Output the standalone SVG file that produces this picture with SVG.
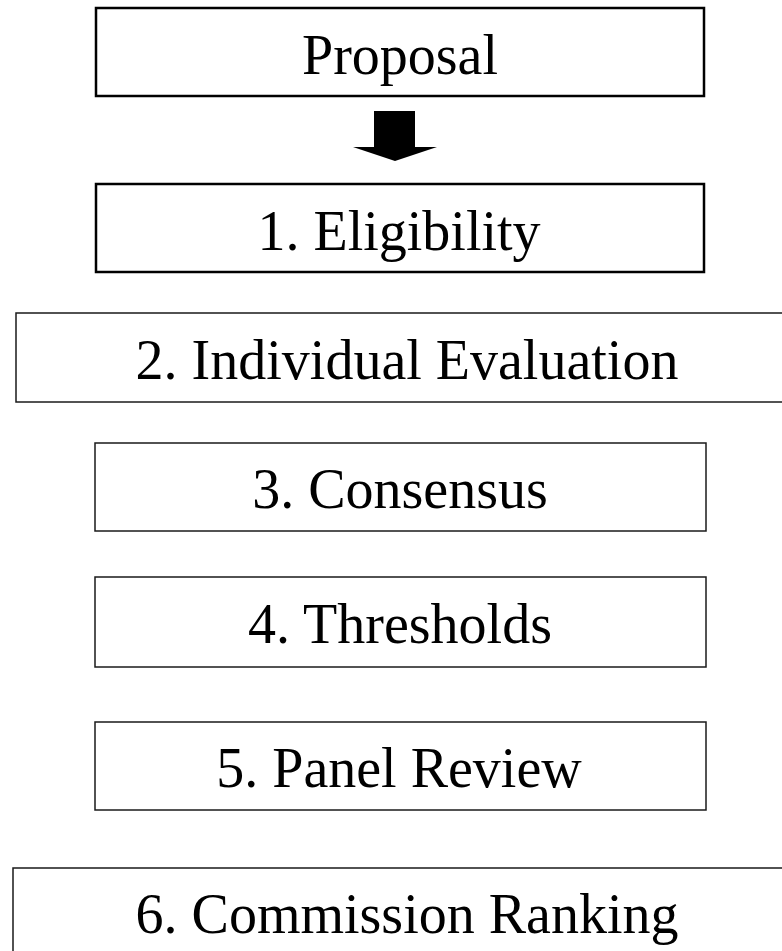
<svg xmlns="http://www.w3.org/2000/svg" width="782" height="951" viewBox="0 0 782 951">
<style>
.box{fill:#fff;stroke:#000;}
.thick{stroke-width:2.5;}
.thin{stroke-width:1.5;stroke:#1a1a1a;}
.lbl{font-family:"Liberation Serif","Times New Roman",serif;font-size:56px;fill:#000;text-anchor:middle;}
</style>
<rect x="0" y="0" width="782" height="951" fill="#fff"/>
<g id="proposal">
<rect class="box thick" x="96" y="8" width="608" height="88"/>
<text class="lbl" x="400" y="74">Proposal</text>
</g>
<g id="connectors">
<polygon points="374,111 415,111 415,147 437,147 395,161 353,147 374,147" fill="#000"/>
</g>
<g id="eligibility">
<rect class="box thick" x="96" y="184" width="608" height="88"/>
<text class="lbl" x="399" y="250">1. Eligibility</text>
</g>
<g id="individual-evaluation">
<rect class="box thin" x="16" y="313" width="780" height="89"/>
<text class="lbl" x="407" y="379">2. Individual Evaluation</text>
</g>
<g id="consensus">
<rect class="box thin" x="95" y="443" width="611" height="88"/>
<text class="lbl" x="400" y="508">3. Consensus</text>
</g>
<g id="thresholds">
<rect class="box thin" x="95" y="577" width="611" height="90"/>
<text class="lbl" x="400" y="643">4. Thresholds</text>
</g>
<g id="panel-review">
<rect class="box thin" x="95" y="722" width="611" height="88"/>
<text class="lbl" x="399" y="787">5. Panel Review</text>
</g>
<g id="commission-ranking">
<rect class="box thin" x="13" y="868" width="790" height="100"/>
<text class="lbl" x="407" y="933">6. Commission Ranking</text>
</g>
</svg>
